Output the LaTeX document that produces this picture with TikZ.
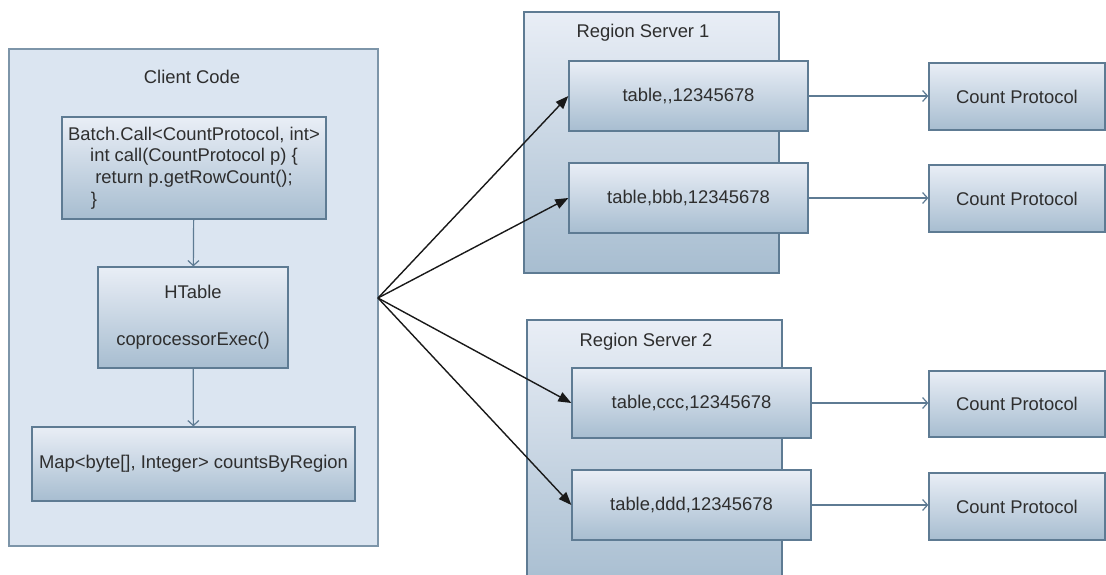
\documentclass[tikz,border=0pt]{standalone}
\usepackage{fontspec}
\setmainfont{Liberation Sans}
\usetikzlibrary{arrows.meta}
\definecolor{boxline}{HTML}{5E7B93}
\definecolor{outline}{HTML}{7D95A9}
\definecolor{clientfill}{HTML}{DBE5F1}
\definecolor{shadetop}{HTML}{E9EEF6}
\definecolor{shadebot}{HTML}{A7BDD0}
\definecolor{textgray}{HTML}{2E2E2E}

\begin{document}
\begin{tikzpicture}[x=1pt,y=-1pt,
  txt/.style={text=textgray,font=\fontsize{18.4}{21.7}\selectfont},
  panel/.style={draw=boxline,line width=1.3pt,top color=shadetop,bottom color=shadebot,inner sep=0pt,txt},
  flow/.style={draw=boxline,line width=1.2pt,-{Straight Barb[length=5pt,width=11pt]}},
  call/.style={draw=black!90,line width=1.4pt,-{Triangle[length=13pt,width=10pt]}}]
\path[clip] (0,0) rectangle (1106,575);
% client side
\node[draw=outline,line width=1.4pt,fill=clientfill,minimum width=369,minimum height=497] (client) at (193.5,297.5) {};
\node[txt] (clientlbl) at (192,77) {Client Code};
\node[panel,minimum width=264,minimum height=102,align=center] (batch) at (194,168)
  {Batch.Call<CountProtocol, int>\\int call(CountProtocol p) \{\\return p.getRowCount();\\\makebox[206pt][l]{\}}};
\node[panel,minimum width=190,minimum height=101,align=center] (htable) at (193,317.5)
  {HTable\\[25pt]coprocessorExec()};
\node[panel,minimum width=323,minimum height=74] (countmap) at (193.5,464) {Map<byte[], Integer> countsByRegion};
\draw[flow] (batch) -- (htable);
\draw[flow] (htable) -- (countmap);
% region servers
\node[panel,minimum width=255,minimum height=261] (rs1) at (651.5,142.5) {};
\node[txt,anchor=west] (rs1lbl) at (573,33) {Region Server 1};
\node[panel,minimum width=255,minimum height=270] (rs2) at (654.5,455) {};
\node[txt,anchor=west] (rs2lbl) at (576,342) {Region Server 2};
\node[panel,minimum width=239,minimum height=70] (t1) at (688.5,96) {table,{},12345678};
\node[panel,minimum width=239,minimum height=70] (t2) at (688.5,198) {table,bbb,12345678};
\node[panel,minimum width=239,minimum height=70] (t3) at (691.5,403) {table,ccc,12345678};
\node[panel,minimum width=239,minimum height=70] (t4) at (691.5,505) {table,ddd,12345678};
\node[panel,minimum width=176,minimum height=67] (cp1) at (1017,96.5) {Count Protocol};
\node[panel,minimum width=176,minimum height=67] (cp2) at (1017,198.5) {Count Protocol};
\node[panel,minimum width=176,minimum height=66] (cp3) at (1017,404) {Count Protocol};
\node[panel,minimum width=176,minimum height=67] (cp4) at (1017,506.5) {Count Protocol};
\foreach \i in {1,2,3,4}
  \draw[flow] (t\i.east) -- (t\i.east -| cp\i.west);
% calls out of the client
\coordinate (fan) at (378,298);
\foreach \i in {1,2,3,4}
  \draw[call] (fan) -- (t\i.west);
\end{tikzpicture}
\end{document}
